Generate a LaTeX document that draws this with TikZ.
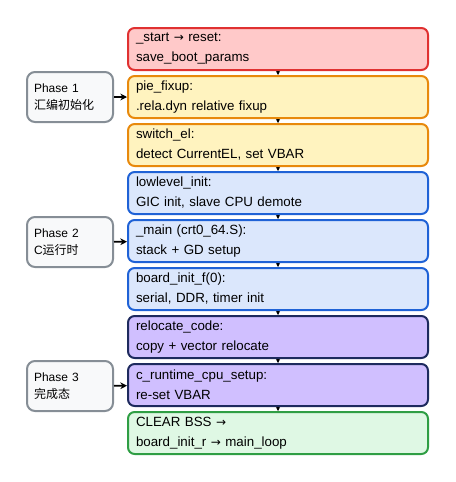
\documentclass[tikz,border=0pt]{standalone}
\usepackage{fontspec}
\setmainfont{Liberation Sans}
\newfontfamily\cjkfont{Noto Sans CJK SC}
\newfontfamily\arrfont{DejaVu Sans}
\usetikzlibrary{arrows.meta}

\definecolor{redfill}{HTML}{FFC9C9}
\definecolor{redline}{HTML}{E03131}
\definecolor{yelfill}{HTML}{FFF3BF}
\definecolor{yelline}{HTML}{E8890C}
\definecolor{bluefill}{HTML}{DBE7FC}
\definecolor{blueline}{HTML}{1F62D6}
\definecolor{purfill}{HTML}{D0BFFF}
\definecolor{purline}{HTML}{1E2A5E}
\definecolor{grnfill}{HTML}{DFF8E4}
\definecolor{grnline}{HTML}{2F9E44}
\definecolor{phfill}{HTML}{F8F9FA}
\definecolor{phline}{HTML}{868E96}

\newcommand{\ra}{{\arrfont\small →}}

\begin{document}
\begin{tikzpicture}[x=0.75pt,y=-0.75pt,
  stage/.style={draw, line width=1.5pt, rounded corners=5pt,
    minimum width=225pt, minimum height=31.5pt, text width=213pt,
    inner xsep=6pt, align=left, font=\fontsize{10}{15}\selectfont},
  phase/.style={draw=phline, fill=phfill, line width=1.5pt, rounded corners=6pt,
    minimum width=64.5pt, minimum height=37.5pt, text width=54pt,
    inner xsep=5pt, align=left, font=\fontsize{9}{13}\selectfont},
  link/.style={-{Stealth[length=3pt,width=3pt]}, line width=0.8pt},
  plink/.style={-{Stealth[length=5pt,width=5pt]}, line width=1.2pt}]
\useasboundingbox (0,0) rectangle (456,482);

% stages
\node[stage, draw=redline, fill=redfill] (s1) at (278,49) {\_start \ra{} reset:\\save\_boot\_params};
\node[stage, draw=yelline, fill=yelfill] (s2) at (278,97) {pie\_fixup:\\.rela.dyn relative fixup};
\node[stage, draw=yelline, fill=yelfill] (s3) at (278,145) {switch\_el:\\detect CurrentEL, set VBAR};
\node[stage, draw=blueline, fill=bluefill] (s4) at (278,193) {lowlevel\_init:\\GIC init, slave CPU demote};
\node[stage, draw=blueline, fill=bluefill] (s5) at (278,241) {\_main (crt0\_64.S):\\stack + GD setup};
\node[stage, draw=blueline, fill=bluefill] (s6) at (278,289) {board\_init\_f(0):\\serial, DDR, timer init};
\node[stage, draw=purline, fill=purfill] (s7) at (278,337) {relocate\_code:\\copy + vector relocate};
\node[stage, draw=purline, fill=purfill] (s8) at (278,385) {c\_runtime\_cpu\_setup:\\re-set VBAR};
\node[stage, draw=grnline, fill=grnfill] (s9) at (278,433) {CLEAR BSS \ra\\board\_init\_r \ra{} main\_loop};

% phases
\node[phase] (p1) at (70,97) {Phase 1\\{\cjkfont 汇编初始化}};
\node[phase] (p2) at (70,242) {Phase 2\\C{\cjkfont 运行时}};
\node[phase] (p3) at (70,386) {Phase 3\\{\cjkfont 完成态}};

\foreach \a/\b in {s1/s2,s2/s3,s3/s4,s4/s5,s5/s6,s6/s7,s7/s8,s8/s9}
  \draw[link] (\a) -- (\b);

\draw[plink] (p1) -- (s2);
\draw[plink] (p2) -- (s5);
\draw[plink] (p3) -- (s8);
\end{tikzpicture}
\end{document}
